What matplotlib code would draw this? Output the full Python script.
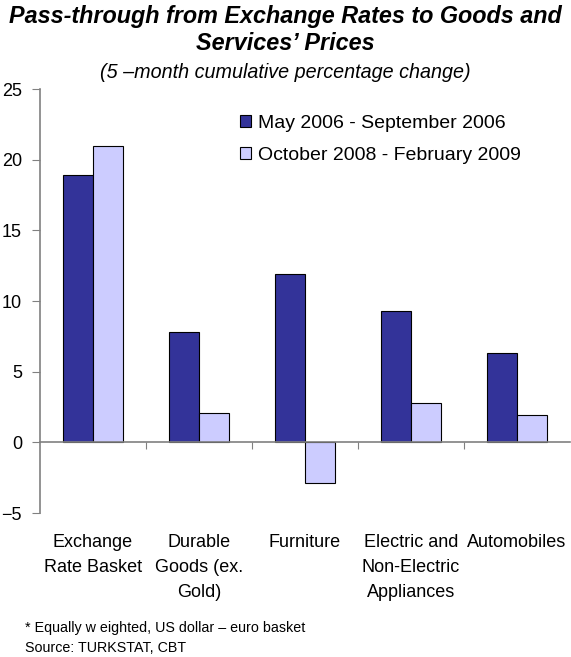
"""Bar chart: exchange-rate pass-through to goods and services prices."""

import matplotlib
matplotlib.use('Agg')
import matplotlib.pyplot as plt
import matplotlib.transforms as mtransforms
import numpy as np

plt.rcParams['font.family'] = ['Liberation Sans', 'DejaVu Sans']

categories = ["Exchange\nRate Basket", "Durable\nGoods (ex.\nGold)", "Furniture",
              "Electric and\nNon-Electric\nAppliances", "Automobiles"]
series_names = ["May 2006 - September 2006", "October 2008 - February 2009"]
period_2006 = [18.9, 7.8, 11.9, 9.3, 6.3]
period_2008 = [21.0, 2.1, -2.9, 2.8, 1.9]

colors = ["#333399", "#CCCCFF"]
axis_gray = "#808080"

fig = plt.figure(figsize=(5.71, 6.57), dpi=100)
ax = fig.add_axes([40 / 571, 1 - 513 / 657, 530 / 571, 424 / 657])

x = np.arange(len(categories))
w = 0.285
ax.bar(x - w / 2, period_2006, w, color=colors[0], edgecolor="black",
       linewidth=0.8, label=series_names[0])
ax.bar(x + w / 2, period_2008, w, color=colors[1], edgecolor="black",
       linewidth=0.8, label=series_names[1])

ax.set_xlim(-0.5, len(categories) - 0.5)
ax.set_ylim(-5, 25)
ax.set_yticks(range(-5, 30, 5))
ax.tick_params(axis='y', direction='out', length=6, color=axis_gray,
               labelsize=13, pad=7)

# x axis sits on zero, ticks between category groups
ax.spines['bottom'].set_position(('data', 0))
ax.set_xticks(x[:-1] + 0.5)
ax.set_xticklabels([])
ax.tick_params(axis='x', direction='out', length=5, color=axis_gray)
for side in ['top', 'right']:
    ax.spines[side].set_visible(False)
for side in ['left', 'bottom']:
    ax.spines[side].set_color(axis_gray)
    ax.spines[side].set_linewidth(1.2)

trans = mtransforms.blended_transform_factory(ax.transData, ax.transAxes)
for xi, lab in zip(x, categories):
    ax.text(xi, -0.05, lab, transform=trans, ha='center', va='top',
            fontsize=13, linespacing=1.6)

ax.legend(loc='upper left', bbox_to_anchor=(0.377, 0.939), frameon=False,
          fontsize=14, handlelength=0.6, handleheight=0.6, borderpad=0,
          borderaxespad=0, handletextpad=0.35, labelspacing=0.78)

fig.text(0.5, 1 - 17 / 657, "Pass-through from Exchange Rates to Goods and",
         ha='center', va='center', fontsize=16.8, fontweight='bold', fontstyle='italic')
fig.text(0.5, 1 - 44 / 657, "Services’ Prices",
         ha='center', va='center', fontsize=16.8, fontweight='bold', fontstyle='italic')
fig.text(0.5, 1 - 73 / 657, "(5 –month cumulative percentage change)",
         ha='center', va='center', fontsize=14.2, fontstyle='italic')

fig.text(25 / 571, 1 - 628 / 657, "* Equally w eighted, US dollar – euro basket",
         ha='left', va='center', fontsize=10.3)
fig.text(25 / 571, 1 - 648 / 657, "Source: TURKSTAT, CBT",
         ha='left', va='center', fontsize=10.3)

fig.savefig("out.png", dpi=100)
